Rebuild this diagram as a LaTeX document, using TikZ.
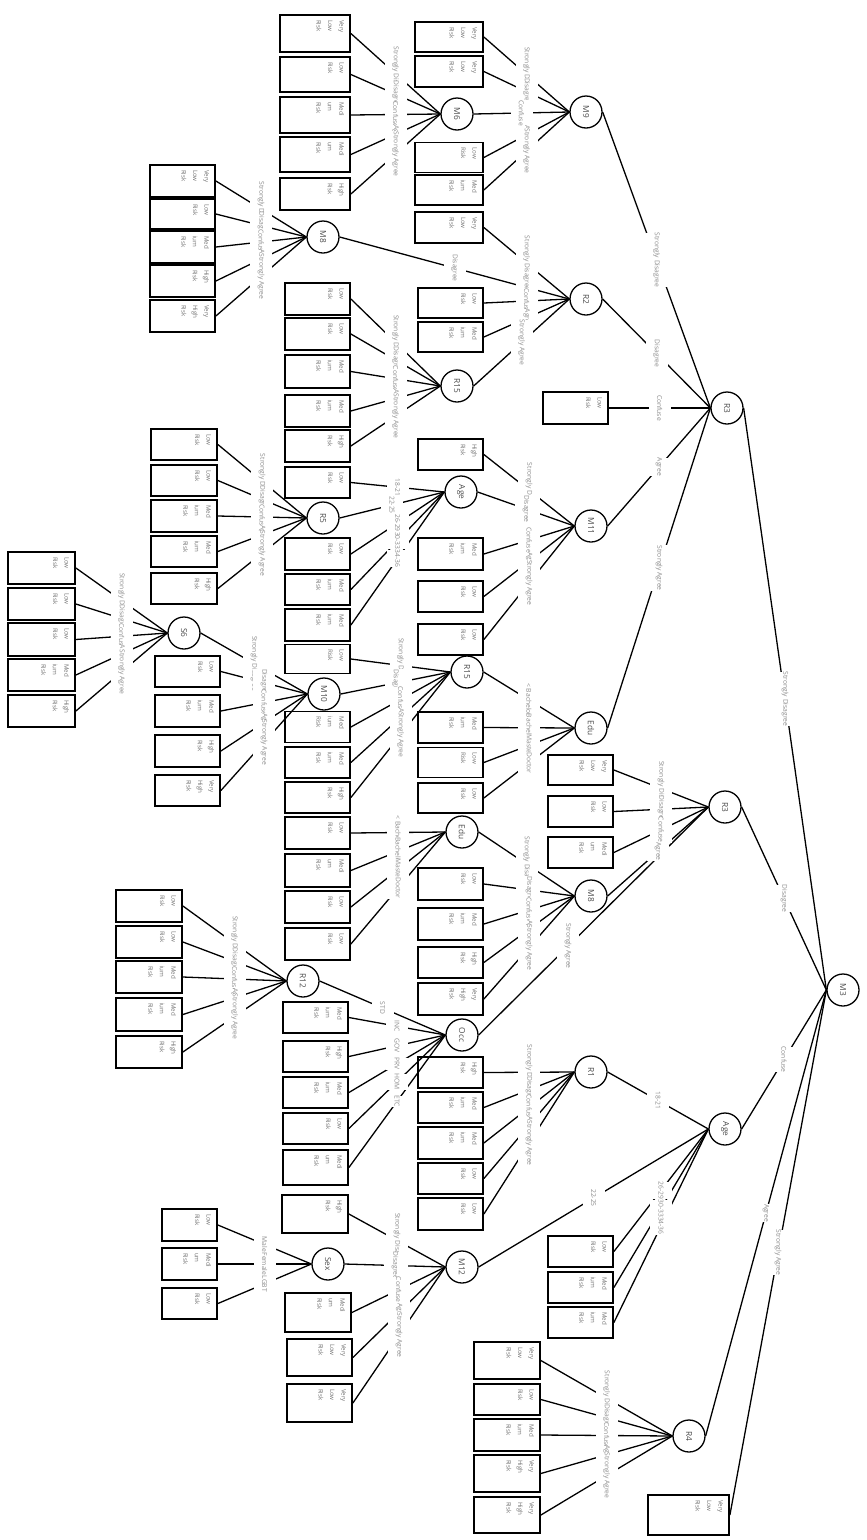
\documentclass[tikz,border=0pt]{standalone}
\usepackage{fontspec}
\setmainfont{Open Sans}
\usepackage{tikz}

\pgfdeclarelayer{edges}
\pgfsetlayers{edges,main}

% leaf text, top-left in the box: width, height, text
\newcommand{\risk}[3]{\parbox[c][#2pt][t]{#1pt}{\raggedright\leftskip=5pt\vspace*{6pt}#3}}
% edge label: text left-aligned in a box 1.5 times its width
\newcommand{\lab}[1]{\setbox0=\hbox{#1}\copy0\hskip.5\wd0}
% connector under all labels, label on top
\newcommand{\branch}[4][0.5]{%
  \begin{pgfonlayer}{edges}\draw[branch] (#2.south) -- (#3.north);\end{pgfonlayer}%
  \path (#2.south) -- node[elab,pos=#1]{\lab{#4}} (#3.north);}
\newcommand{\VLR}{Very\\Low\\Risk}
\newcommand{\LR}{Low\\Risk}
\newcommand{\MR}{Med\\ium\\Risk}
\newcommand{\MRi}{Medi\\um\\Risk}
\newcommand{\HR}{High\\Risk}
\newcommand{\VHR}{Very\\High\\Risk}

\tikzset{
  attr/.style={draw, circle, line width=1.3pt, minimum size=32pt, inner sep=0pt, rotate=-90,
    text=black!70, font=\fontsize{8.3}{10}\selectfont},
  leaf/.style={draw, line width=1.8pt, inner sep=0pt, rotate=-90,
    text=black!55, font=\fontsize{6.2}{11.5}\selectfont},
  branch/.style={line width=1.3pt},
  elab/.style={rotate=-90, fill=white, inner xsep=0pt, inner ysep=0pt, minimum height=22pt,
    text=black!45, font=\fontsize{6.7}{8}\selectfont}
}

\begin{document}
\begin{tikzpicture}[x=1pt,y=-1pt]
\useasboundingbox (0,0) rectangle (867,1540);

% root
\node[attr] (m3) at (843,990) {M3};
\node[attr] (r3a) at (727,408) {R3};
\node[attr] (r3b) at (725,807) {R3};
\node[attr] (agea) at (725,1129) {Age};
\node[attr] (r4) at (689,1436) {R4};
\node[leaf] (m3e) at (688.5,1515) {\risk{40}{81}{\VLR}};

% under R3 (top)
\node[attr] (m9) at (586,112) {M9};
\node[attr] (r2) at (586,299) {R2};
\node[leaf] (r3ac) at (575.5,408) {\risk{32}{65}{\LR}};
\node[attr] (m11) at (591,526) {M11};
\node[attr] (edua) at (591,728) {Edu};

% under M9
\node[leaf] (m9a) at (449,37) {\risk{30}{68}{\VLR}};
\node[leaf] (m9b) at (449,71.5) {\risk{31}{68}{\VLR}};
\node[attr] (m6) at (457,114) {M6};
\node[leaf] (m9d) at (449,157.5) {\risk{30}{68}{\LR}};
\node[leaf] (m9e) at (449,190) {\risk{30}{68}{\MR}};

% under M6
\node[leaf] (m6a) at (315,33.5) {\risk{37}{70}{\VLR}};
\node[leaf] (m6b) at (315,74.5) {\risk{35}{70}{\LR}};
\node[leaf] (m6c) at (315,115) {\risk{36}{70}{\MRi}};
\node[leaf] (m6d) at (315,154.5) {\risk{35}{70}{\MRi}};
\node[leaf] (m6e) at (315,194) {\risk{32}{70}{\HR}};

% under R2
\node[leaf] (r2a) at (449,227.5) {\risk{31}{68}{\VLR}};
\node[attr] (m8a) at (323,237) {M8};
\node[leaf] (r2c) at (450.5,303) {\risk{30}{65}{\LR}};
\node[leaf] (r2d) at (450.5,337) {\risk{30}{65}{\MR}};
\node[attr] (r15a) at (457,386) {R15};

% under M8 (R2)
\node[leaf] (m8aa) at (182.5,181) {\risk{32}{65}{\VLR}};
\node[leaf] (m8ab) at (182.5,214) {\risk{30}{65}{\LR}};
\node[leaf] (m8ac) at (182.5,247) {\risk{32}{65}{\MR}};
\node[leaf] (m8ad) at (182.5,281) {\risk{32}{65}{\HR}};
\node[leaf] (m8ae) at (182.5,316) {\risk{32}{65}{\VHR}};

% under R15 (R2)
\node[leaf] (r15aa) at (317.5,299) {\risk{32}{65}{\LR}};
\node[leaf] (r15ab) at (317.5,334) {\risk{32}{65}{\LR}};
\node[leaf] (r15ac) at (317.5,371.5) {\risk{33}{65}{\MR}};
\node[leaf] (r15ad) at (317.5,411) {\risk{32}{65}{\MR}};
\node[leaf] (r15ae) at (317.5,446) {\risk{32}{65}{\HR}};

% under M11
\node[leaf] (m11a) at (450.5,454.5) {\risk{31}{65}{\HR}};
\node[attr] (ageb) at (461,492) {Age};
\node[leaf] (m11c) at (450.5,554) {\risk{32}{65}{\MR}};
\node[leaf] (m11d) at (450.5,596.5) {\risk{31}{65}{\LR}};
\node[leaf] (m11e) at (450.5,639.5) {\risk{31}{65}{\LR}};

% under Age (M11)
\node[leaf] (ageba) at (317.5,482.5) {\risk{31}{65}{\LR}};
\node[attr] (r5) at (323,518) {R5};
\node[leaf] (agebc) at (317.5,554) {\risk{32}{65}{\LR}};
\node[leaf] (agebd) at (317.5,589.5) {\risk{31}{65}{\MR}};
\node[leaf] (agebe) at (317.5,625) {\risk{32}{65}{\MR}};

% under R5
\node[leaf] (r5a) at (184,444.5) {\risk{31}{66}{\LR}};
\node[leaf] (r5b) at (184,480.5) {\risk{31}{66}{\LR}};
\node[leaf] (r5c) at (184,516) {\risk{32}{66}{\MR}};
\node[leaf] (r5d) at (184,551.5) {\risk{31}{66}{\MR}};
\node[leaf] (r5e) at (184,588.5) {\risk{31}{66}{\HR}};

% under Edu (R3)
\node[attr] (r15b) at (467,672) {R15};
\node[leaf] (eduab) at (450.5,727.5) {\risk{31}{65}{\MR}};
\node[leaf] (eduac) at (450.5,762.5) {\risk{30}{65}{\LR}};
\node[leaf] (eduad) at (450.5,798) {\risk{30}{65}{\LR}};

% under R15 (Edu)
\node[leaf] (r15ba) at (317.5,659) {\risk{29}{65}{\LR}};
\node[attr] (m10) at (324,694) {M10};
\node[leaf] (r15bc) at (317.5,727) {\risk{31}{65}{\MR}};
\node[leaf] (r15bd) at (317.5,762.5) {\risk{31}{65}{\MR}};
\node[leaf] (r15be) at (317.5,797.5) {\risk{31}{65}{\HR}};

% under M10
\node[attr] (s6) at (184,633) {S6};
\node[leaf] (m10b) at (187.5,671.5) {\risk{31}{65}{\LR}};
\node[leaf] (m10c) at (187.5,711) {\risk{32}{65}{\MR}};
\node[leaf] (m10d) at (187.5,751) {\risk{32}{65}{\HR}};
\node[leaf] (m10e) at (187.5,790.5) {\risk{31}{65}{\VHR}};

% under S6
\node[leaf] (s6a) at (41.5,568) {\risk{32}{67}{\LR}};
\node[leaf] (s6b) at (41.5,604) {\risk{32}{67}{\LR}};
\node[leaf] (s6c) at (41.5,639.5) {\risk{33}{67}{\LR}};
\node[leaf] (s6d) at (41.5,675) {\risk{32}{67}{\MR}};
\node[leaf] (s6e) at (41.5,711) {\risk{32}{67}{\HR}};

% under R3 (bottom)
\node[leaf] (r3ba) at (580.5,770) {\risk{30}{65}{\VLR}};
\node[leaf] (r3bb) at (580.5,811.5) {\risk{31}{65}{\LR}};
\node[leaf] (r3bc) at (580.5,852.5) {\risk{31}{65}{\MRi}};
\node[attr] (m8b) at (591,896) {M8};
\node[attr] (occ) at (462,1035) {Occ};

% under M8 (R3)
\node[attr] (edub) at (462,832) {Edu};
\node[leaf] (m8bb) at (450.5,884) {\risk{32}{65}{\LR}};
\node[leaf] (m8bc) at (450.5,924) {\risk{32}{65}{\MR}};
\node[leaf] (m8bd) at (450.5,962.5) {\risk{31}{65}{\HR}};
\node[leaf] (m8be) at (450.5,999) {\risk{32}{65}{\VHR}};

% under Edu (M8)
\node[leaf] (eduba) at (317.5,833) {\risk{32}{65}{\LR}};
\node[leaf] (edubb) at (317.5,870.5) {\risk{33}{65}{\MRi}};
\node[leaf] (edubc) at (317.5,907) {\risk{32}{65}{\LR}};
\node[leaf] (edubd) at (317.5,944) {\risk{32}{65}{\LR}};

% under Occ
\node[attr] (r12) at (303,981) {R12};
\node[leaf] (occb) at (315.5,1017.5) {\risk{31}{65}{\MR}};
\node[leaf] (occc) at (315.5,1056.5) {\risk{31}{65}{\HR}};
\node[leaf] (occd) at (315.5,1092.5) {\risk{31}{65}{\MR}};
\node[leaf] (occe) at (315.5,1128.5) {\risk{31}{65}{\LR}};
\node[leaf] (occf) at (315.5,1167.5) {\risk{35}{65}{\MRi}};

% under R12
\node[leaf] (r12a) at (149,906) {\risk{32}{66}{\LR}};
\node[leaf] (r12b) at (149,942) {\risk{32}{66}{\LR}};
\node[leaf] (r12c) at (149,977) {\risk{32}{66}{\MR}};
\node[leaf] (r12d) at (149,1014.5) {\risk{33}{66}{\MR}};
\node[leaf] (r12e) at (149,1052) {\risk{32}{66}{\HR}};

% under Age (M3)
\node[attr] (r1) at (591,1072) {R1};
\node[attr] (m12) at (462,1267) {M12};
\node[leaf] (ageac) at (580.5,1251.5) {\risk{31}{65}{\LR}};
\node[leaf] (agead) at (580.5,1287.5) {\risk{31}{65}{\MR}};
\node[leaf] (ageae) at (580.5,1322.5) {\risk{31}{65}{\MR}};

% under R1
\node[leaf] (r1a) at (450.5,1072.5) {\risk{31}{65}{\HR}};
\node[leaf] (r1b) at (450.5,1107.5) {\risk{31}{65}{\MR}};
\node[leaf] (r1c) at (450.5,1143) {\risk{32}{65}{\MR}};
\node[leaf] (r1d) at (450.5,1178.5) {\risk{31}{65}{\LR}};
\node[leaf] (r1e) at (450.5,1214) {\risk{32}{65}{\LR}};

% under M12
\node[leaf] (m12a) at (315,1214) {\risk{38}{66}{\HR}};
\node[attr] (sex) at (328,1264) {Sex};
\node[leaf] (m12c) at (318,1312.5) {\risk{39}{66}{\MRi}};
\node[leaf] (m12d) at (319.5,1357.5) {\risk{37}{65}{\VLR}};
\node[leaf] (m12e) at (319.5,1403) {\risk{38}{65}{\VLR}};

% under Sex
\node[leaf] (sexa) at (189.5,1225) {\risk{32}{55}{\LR}};
\node[leaf] (sexb) at (189.5,1264) {\risk{32}{55}{\MRi}};
\node[leaf] (sexc) at (189.5,1303.5) {\risk{31}{55}{\LR}};

% under R4
\node[leaf] (r4a) at (507,1360.5) {\risk{37}{66}{\VLR}};
\node[leaf] (r4b) at (507,1399.5) {\risk{31}{66}{\LR}};
\node[leaf] (r4c) at (507,1435) {\risk{32}{66}{\MR}};
\node[leaf] (r4d) at (507,1473.5) {\risk{37}{66}{\VHR}};
\node[leaf] (r4e) at (507,1515) {\risk{36}{66}{\VHR}};

% branches of M3
\branch{m3}{r3a}{Strongly Disagree}
\branch{m3}{r3b}{Disagree}
\branch{m3}{agea}{Confuse}
\branch{m3}{r4}{Agree}
\branch{m3}{m3e}{Strongly Agree}

% branches of R3 (top)
\branch{r3a}{m9}{Strongly Disagree}
\branch{r3a}{r2}{Disagree}
\branch{r3a}{r3ac}{Confuse}
\branch{r3a}{m11}{Agree}
\branch{r3a}{edua}{Strongly Agree}

% branches of M9
\branch{m9}{m9a}{Strongly Disagree}
\branch{m9}{m9b}{Disagree}
\branch{m9}{m6}{Confuse}
\branch{m9}{m9d}{Agree}
\branch{m9}{m9e}{Strongly Agree}

% branches of M6
\branch{m6}{m6a}{Strongly Disagree}
\branch{m6}{m6b}{Disagree}
\branch{m6}{m6c}{Confuse}
\branch{m6}{m6d}{Agree}
\branch{m6}{m6e}{Strongly Agree}

% branches of R2
\branch{r2}{r2a}{Strongly Disagree}
\branch{r2}{m8a}{Disagree}
\branch{r2}{r2c}{Confuse}
\branch{r2}{r2d}{Agree}
\branch{r2}{r15a}{Strongly Agree}

% branches of M8 (R2)
\branch{m8a}{m8aa}{Strongly Disagree}
\branch{m8a}{m8ab}{Disagree}
\branch{m8a}{m8ac}{Confuse}
\branch{m8a}{m8ad}{Agree}
\branch{m8a}{m8ae}{Strongly Agree}

% branches of R15 (R2)
\branch{r15a}{r15aa}{Strongly Disagree}
\branch{r15a}{r15ab}{Disagree}
\branch{r15a}{r15ac}{Confuse}
\branch{r15a}{r15ad}{Agree}
\branch{r15a}{r15ae}{Strongly Agree}

% branches of M11
\branch{m11}{m11a}{Strongly Disagree}
\branch{m11}{ageb}{Disagree}
\branch{m11}{m11c}{Confuse}
\branch{m11}{m11d}{Agree}
\branch{m11}{m11e}{Strongly Agree}

% branches of Age (M11)
\branch{ageb}{ageba}{18-21}
\branch{ageb}{r5}{22-25}
\branch{ageb}{agebc}{26-29}
\branch{ageb}{agebd}{30-33}
\branch{ageb}{agebe}{34-36}

% branches of R5
\branch{r5}{r5a}{Strongly Disagree}
\branch{r5}{r5b}{Disagree}
\branch{r5}{r5c}{Confuse}
\branch{r5}{r5d}{Agree}
\branch{r5}{r5e}{Strongly Agree}

% branches of Edu (R3)
\branch{edua}{r15b}{< Bachelor}
\branch{edua}{eduab}{Bachelor}
\branch{edua}{eduac}{Master}
\branch{edua}{eduad}{Doctor}

% branches of R15 (Edu)
\branch{r15b}{r15ba}{Strongly Disagree}
\branch{r15b}{m10}{Disagree}
\branch{r15b}{r15bc}{Confuse}
\branch{r15b}{r15bd}{Agree}
\branch{r15b}{r15be}{Strongly Agree}

% branches of M10
\branch{m10}{s6}{Strongly Disagree}
\branch{m10}{m10b}{Disagree}
\branch{m10}{m10c}{Confuse}
\branch{m10}{m10d}{Agree}
\branch{m10}{m10e}{Strongly Agree}

% branches of S6
\branch{s6}{s6a}{Strongly Disagree}
\branch{s6}{s6b}{Disagree}
\branch{s6}{s6c}{Confuse}
\branch{s6}{s6d}{Agree}
\branch{s6}{s6e}{Strongly Agree}

% branches of R3 (bottom)
\branch{r3b}{r3ba}{Strongly Disagree}
\branch{r3b}{r3bb}{Disagree}
\branch{r3b}{r3bc}{Confuse}
\branch{r3b}{m8b}{Agree}
\branch[0.61]{r3b}{occ}{Strongly Agree}

% branches of M8 (R3)
\branch{m8b}{edub}{Strongly Disagree}
\branch{m8b}{m8bb}{Disagree}
\branch{m8b}{m8bc}{Confuse}
\branch{m8b}{m8bd}{Agree}
\branch{m8b}{m8be}{Strongly Agree}

% branches of Edu (M8)
\branch{edub}{eduba}{< Bachelor}
\branch{edub}{edubb}{Bachelor}
\branch{edub}{edubc}{Master}
\branch{edub}{edubd}{Doctor}

% branches of Occ
\branch{occ}{r12}{STD}
\branch{occ}{occb}{INC}
\branch{occ}{occc}{GOV}
\branch{occ}{occd}{PRV}
\branch{occ}{occe}{HOM}
\branch{occ}{occf}{ETC}

% branches of R12
\branch{r12}{r12a}{Strongly Disagree}
\branch{r12}{r12b}{Disagree}
\branch{r12}{r12c}{Confuse}
\branch{r12}{r12d}{Agree}
\branch{r12}{r12e}{Strongly Agree}

% branches of Age (M3)
\branch{agea}{r1}{18-21}
\branch{agea}{m12}{22-25}
\branch{agea}{ageac}{26-29}
\branch{agea}{agead}{30-33}
\branch{agea}{ageae}{34-36}

% branches of R1
\branch{r1}{r1a}{Strongly Disagree}
\branch{r1}{r1b}{Disagree}
\branch{r1}{r1c}{Confuse}
\branch{r1}{r1d}{Agree}
\branch{r1}{r1e}{Strongly Agree}

% branches of M12
\branch{m12}{m12a}{Strongly Disagree}
\branch{m12}{sex}{Disagree}
\branch{m12}{m12c}{Confuse}
\branch{m12}{m12d}{Agree}
\branch{m12}{m12e}{Strongly Agree}

% branches of Sex
\branch{sex}{sexa}{Male}
\branch{sex}{sexb}{Female}
\branch{sex}{sexc}{LGBT}

% branches of R4
\branch{r4}{r4a}{Strongly Disagree}
\branch{r4}{r4b}{Disagree}
\branch{r4}{r4c}{Confuse}
\branch{r4}{r4d}{Agree}
\branch{r4}{r4e}{Strongly Agree}
\end{tikzpicture}
\end{document}
